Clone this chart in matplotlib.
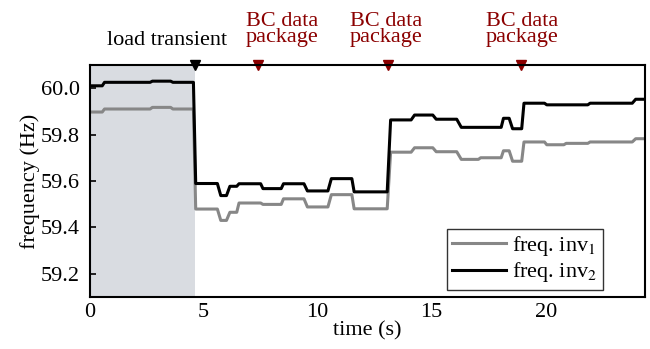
import matplotlib
matplotlib.use("Agg")
import matplotlib.pyplot as plt

plt.rcParams["font.family"] = ["Liberation Serif", "DejaVu Serif"]
plt.rcParams["mathtext.fontset"] = "stix"

# corner points: (time s, frequency Hz)
t_inv1 = [0, 0.55, 0.65, 2.65, 2.75, 3.55, 3.65, 4.55, 4.65, 5.6, 5.75, 6.0, 6.15,
          6.45, 6.55, 7.5, 7.6, 8.4, 8.5, 9.4, 9.55, 10.45, 10.6, 11.5, 11.6, 13.05,
          13.2, 14.1, 14.25, 15.05, 15.2, 16.1, 16.3, 17.05, 17.15, 18.05, 18.15,
          18.4, 18.55, 18.95, 19.05, 19.95, 20.05, 20.8, 20.9, 21.85, 21.95, 23.8,
          23.95, 24.35]
f_inv1 = [59.897, 59.897, 59.91, 59.91, 59.917, 59.917, 59.91, 59.91, 59.479, 59.479,
          59.43, 59.43, 59.465, 59.465, 59.505, 59.505, 59.499, 59.499, 59.523, 59.523,
          59.488, 59.488, 59.541, 59.541, 59.48, 59.48, 59.724, 59.724, 59.743, 59.743,
          59.726, 59.726, 59.693, 59.693, 59.70, 59.70, 59.73, 59.73, 59.685, 59.685,
          59.768, 59.768, 59.756, 59.756, 59.762, 59.762, 59.768, 59.768, 59.782, 59.782]

t_inv2 = [0, 0.55, 0.65, 2.65, 2.75, 3.55, 3.65, 4.55, 4.65, 5.6, 5.75, 6.0, 6.15,
          6.45, 6.55, 7.5, 7.6, 8.4, 8.5, 9.4, 9.55, 10.45, 10.6, 11.5, 11.6, 13.05,
          13.2, 14.1, 14.25, 15.05, 15.2, 16.1, 16.3, 18.05, 18.15, 18.4, 18.55,
          18.95, 19.05, 19.95, 20.05, 21.85, 21.95, 23.8, 23.95, 24.35]
f_inv2 = [60.01, 60.01, 60.025, 60.025, 60.03, 60.03, 60.025, 60.025, 59.589, 59.589,
          59.537, 59.537, 59.577, 59.577, 59.588, 59.588, 59.567, 59.567, 59.588, 59.588,
          59.557, 59.557, 59.61, 59.61, 59.553, 59.553, 59.863, 59.863, 59.884, 59.884,
          59.866, 59.866, 59.831, 59.831, 59.87, 59.87, 59.825, 59.825, 59.935, 59.935,
          59.928, 59.928, 59.935, 59.935, 59.952, 59.952]

shade_end = 4.6
load_t = 4.6
bc_times = [7.4, 13.1, 18.9]
bc_text_x = [8.45, 13.0, 18.95]

FS = 16

fig = plt.figure(figsize=(6.5, 3.49), dpi=100)
ax = fig.add_axes([0.138, 0.149, 0.854, 0.665])

ax.axvspan(0, shade_end, color="#d9dce1", lw=0, zorder=0)
ax.plot(t_inv1, f_inv1, color="#878787", lw=2.2, label="freq. inv$_1$")
ax.plot(t_inv2, f_inv2, color="black", lw=2.2, label="freq. inv$_2$")

ax.set_xlim(0, 24.35)
ax.set_ylim(59.1, 60.1)
ax.set_xticks([0, 5, 10, 15, 20])
ax.set_yticks([59.2, 59.4, 59.6, 59.8, 60.0])
ax.set_yticklabels(["59.2", "59.4", "59.6", "59.8", "60.0"])
ax.tick_params(axis="y", direction="in", length=4, width=1.2, labelsize=FS, pad=7)
ax.tick_params(axis="x", length=0, labelsize=FS, pad=4)
for s in ax.spines.values():
    s.set_linewidth(1.5)

ax.set_xlabel("time (s)", fontsize=FS, labelpad=0)
ax.set_ylabel("frequency (Hz)", fontsize=FS, labelpad=1)

# event markers above the top spine
ax.plot([load_t], [1.0], marker="v", color="black", ms=7,
        transform=ax.get_xaxis_transform(), clip_on=False)
ax.annotate("load transient", xy=(3.4, 1.0), xycoords=("data", "axes fraction"),
            xytext=(0, 11), textcoords="offset points", ha="center", va="bottom",
            fontsize=FS, color="black")
for tb, tx in zip(bc_times, bc_text_x):
    ax.plot([tb], [1.0], marker="v", color="#8b0000", ms=7,
            transform=ax.get_xaxis_transform(), clip_on=False)
    ax.annotate("BC data\npackage", xy=(tx, 1.0), xycoords=("data", "axes fraction"),
                xytext=(0, 13), textcoords="offset points", ha="center", va="bottom",
                fontsize=FS, color="#8b0000", linespacing=0.8)

leg = ax.legend(loc="lower right", bbox_to_anchor=(0.925, 0.03), fontsize=FS,
                frameon=True, fancybox=False, handlelength=2.4, handletextpad=0.3,
                borderpad=0.25, labelspacing=0.1, borderaxespad=0.0)
leg.get_frame().set_edgecolor("black")
leg.get_frame().set_linewidth(1.0)

fig.savefig("out.png", dpi=100)
